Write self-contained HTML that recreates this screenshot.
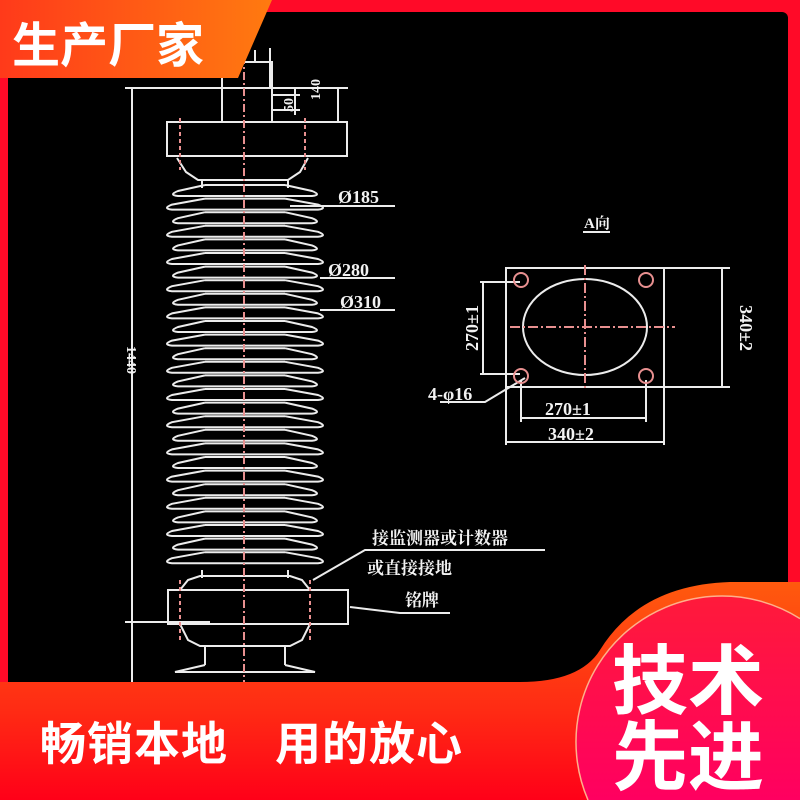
<!DOCTYPE html>
<html><head><meta charset="utf-8"><style>
html,body{margin:0;padding:0;width:800px;height:800px;overflow:hidden;background:#ff0a28}
#wrap{position:relative;width:800px;height:800px;overflow:hidden}
svg{display:block}
</style></head><body><div id="wrap">
<svg id="s" width="800" height="800" viewBox="0 0 800 800" xmlns="http://www.w3.org/2000/svg" style="position:absolute;left:0;top:0">
<defs>
<linearGradient id="tag" x1="0" y1="0" x2="1" y2="0"><stop offset="0" stop-color="#ff3a1a"/><stop offset="1" stop-color="#ff7a10"/></linearGradient>
<linearGradient id="ban" x1="0" y1="0" x2="0" y2="1"><stop offset="0" stop-color="#ff5a0e"/><stop offset="0.6" stop-color="#ff2a14"/><stop offset="1" stop-color="#ff0018"/></linearGradient>
<linearGradient id="circ" x1="0" y1="0" x2="0" y2="1"><stop offset="0" stop-color="#ff1a3a"/><stop offset="1" stop-color="#ff0060"/></linearGradient>
</defs>
<rect x="0" y="0" width="800" height="800" fill="#ff0a28"/>
<rect x="8" y="12" width="780" height="700" rx="6" fill="#000"/>
<g id="draw" stroke="#ececec" stroke-width="2" fill="none">
<line x1="132" y1="88" x2="132" y2="690"/>
<line x1="125" y1="88" x2="348" y2="88"/>
<line x1="125" y1="622" x2="210" y2="622"/>
<rect x="222" y="62" width="50" height="60"/>
<line x1="232" y1="40" x2="232" y2="62"/><line x1="255" y1="50" x2="255" y2="62"/><line x1="270" y1="48" x2="270" y2="88"/>
<line x1="295" y1="88" x2="295" y2="115"/><line x1="272" y1="95" x2="300" y2="95"/><line x1="272" y1="110" x2="300" y2="110"/>
<line x1="338" y1="88" x2="338" y2="122"/>
<rect x="167" y="122" width="180" height="34"/>
<path d="M177,158 L186,172 L198,180 L288,180 L300,172 L308,158"/>
<path d="M202,180 L202,188 M288,180 L288,188"/>
<line x1="180" y1="118" x2="180" y2="170" stroke="#e89090" stroke-dasharray="4,3"/>
<line x1="305" y1="118" x2="305" y2="170" stroke="#e89090" stroke-dasharray="4,3"/>
<g id="sheds"></g>
<path d="M202,570 L202,578 M288,570 L288,578"/>
<path d="M180,590 L188,580 L200,576 L290,576 L302,580 L310,590"/>
<rect x="168" y="590" width="180" height="34"/>
<path d="M180,624 L188,640 L200,646 L290,646 L302,640 L310,624"/>
<path d="M205,646 L205,665 M285,646 L285,665"/>
<path d="M205,665 L175,672 L315,672 L285,665"/>
<line x1="180" y1="580" x2="180" y2="640" stroke="#e89090" stroke-dasharray="4,3"/>
<line x1="310" y1="580" x2="310" y2="640" stroke="#e89090" stroke-dasharray="4,3"/>
<line x1="244" y1="40" x2="244" y2="690" stroke="#e89090" stroke-dasharray="8,3,2,3"/>
<line x1="290" y1="206" x2="395" y2="206"/>
<line x1="320" y1="278" x2="395" y2="278"/>
<line x1="320" y1="310" x2="395" y2="310"/>
<path d="M313,580 L365,550 L545,550"/>
<path d="M350,607 L400,613 L450,613"/>
<line x1="583" y1="232" x2="610" y2="232"/>
<rect x="506" y="268" width="158" height="119"/>
<ellipse cx="585" cy="327" rx="62" ry="48"/>
<line x1="480" y1="282" x2="520" y2="282"/><line x1="480" y1="374" x2="520" y2="374"/>
<line x1="483" y1="282" x2="483" y2="374"/>
<line x1="664" y1="268" x2="730" y2="268"/><line x1="664" y1="387" x2="730" y2="387"/>
<line x1="722" y1="268" x2="722" y2="387"/>
<line x1="521" y1="380" x2="521" y2="422"/><line x1="646" y1="380" x2="646" y2="422"/>
<line x1="521" y1="418" x2="646" y2="418"/>
<line x1="506" y1="387" x2="506" y2="445"/><line x1="664" y1="387" x2="664" y2="445"/>
<line x1="506" y1="442" x2="664" y2="442"/>
<path d="M525,378 L485,402 L440,402"/>
<g stroke="#e89090"><circle cx="521" cy="280" r="7"/><circle cx="646" cy="280" r="7"/><circle cx="521" cy="376" r="7"/><circle cx="646" cy="376" r="7"/>
<line x1="585" y1="265" x2="585" y2="390" stroke-dasharray="10,3,2,3"/><line x1="510" y1="327" x2="675" y2="327" stroke-dasharray="10,3,2,3"/></g>
</g>
<g fill="#f2f2f2" font-family="Liberation Serif, 'Noto Serif CJK SC', serif" font-size="18" font-weight="bold">
<text x="338" y="203">Ø185</text>
<text x="328" y="276">Ø280</text>
<text x="340" y="308">Ø310</text>
<text x="584" y="228" font-size="15">A向</text>
<text x="428" y="400">4-φ16</text>
<text x="545" y="415">270±1</text>
<text x="548" y="440">340±2</text>
<text transform="translate(478,328) rotate(-90)" text-anchor="middle">270±1</text>
<text transform="translate(740,328) rotate(90)" text-anchor="middle">340±2</text>
<text transform="translate(127,360) rotate(90)" text-anchor="middle" font-size="14">1440</text>
<text transform="translate(320,100) rotate(-90)" font-size="14">140</text>
<text transform="translate(293,112) rotate(-90)" font-size="14">50</text>
<text x="372" y="544" font-size="17">接监测器或计数器</text>
<text x="367" y="574" font-size="17">或直接接地</text>
<text x="405" y="606" font-size="17">铭牌</text>
</g>
<polygon points="0,0 272,0 238,78 0,78" fill="url(#tag)"/>
<text x="12" y="62" fill="#fff" font-family="'Liberation Sans','Noto Sans CJK SC',sans-serif" font-weight="bold" font-size="48">生产厂家</text>
<path d="M0,682 L520,682 Q580,682 600,650 Q640,585 730,582 L800,582 L800,800 L0,800 Z" fill="url(#ban)"/>
<path d="M588,800 A146,146 0 0 1 800,618.6 L800,800 Z" fill="url(#circ)"/>
<path d="M588,800 A146,146 0 0 1 800,618.6" fill="none" stroke="#ffb08a" stroke-width="1.5"/>
<text x="40" y="760" fill="#fff" font-family="'Liberation Sans','Noto Sans CJK SC',sans-serif" font-weight="bold" font-size="46" letter-spacing="1">畅销本地　用的放心</text>
<g fill="#fff" font-family="'Liberation Sans','Noto Sans CJK SC',sans-serif" font-weight="bold" font-size="76">
<text x="612" y="708">技术</text>
<text x="612" y="784">先进</text>
</g>
</svg>
<script>
var g=document.getElementById('sheds'),h='';
for(var i=0;i<28;i++){var y=190+i*13.6;var w=(i%2==0)?0:6;
h+='<path d="M205,'+(y-5)+' L'+(178-w)+','+(y+1)+' Q'+(168-w)+','+(y+5)+' '+(178-w)+','+(y+6)+' L'+(312+w)+','+(y+6)+' Q'+(322+w)+','+(y+5)+' '+(312+w)+','+(y+1)+' L285,'+(y-5)+'"/>';
h+='<line x1="205" y1="'+(y-5)+'" x2="285" y2="'+(y-5)+'"/>';}
g.innerHTML=h;
</script>
</div></body></html>
